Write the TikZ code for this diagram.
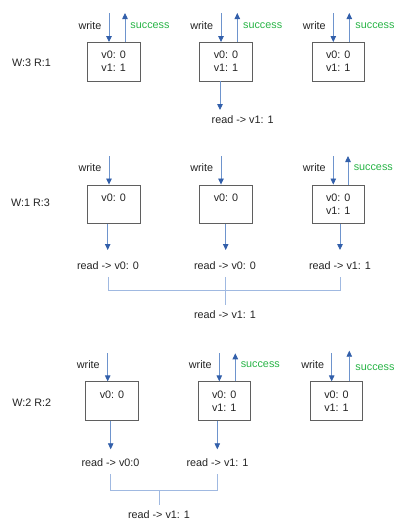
\documentclass[tikz,border=0pt]{standalone}
\usepackage{fontspec}
\setmainfont{Liberation Sans}
\usetikzlibrary{arrows.meta}
\definecolor{arrowblue}{RGB}{110,148,205}
\definecolor{headblue}{RGB}{50,95,170}
\definecolor{mergeblue}{RGB}{160,185,225}
\definecolor{okgreen}{RGB}{40,180,70}
\definecolor{boxgray}{RGB}{95,95,95}
\definecolor{textgray}{RGB}{35,35,35}
\begin{document}
\begin{tikzpicture}[
    x=1pt, y=-1pt,
    font=\fontsize{10.8}{13}\selectfont,
    text=textgray,
    replica/.style={rectangle,draw=boxgray,line width=0.8pt,minimum width=52.5pt,minimum height=38.5pt,align=center,inner sep=2pt},
    msg/.style={arrowblue,line width=0.8pt,-{Triangle[length=6pt,width=5.5pt,color=headblue]}},
    merge/.style={mergeblue,line width=0.9pt},
    ok/.style={text=okgreen}
]
\useasboundingbox (0,0) rectangle (409,531);

% W:3 R:1
\node (q1) at (31.5,63) {W:3 R:1};
\node[replica] (b11) at (113.7,61.7) {v0: 0\\v1: 1};
\node[replica] (b12) at (226,61.7) {v0: 0\\v1: 1};
\node[replica] (b13) at (338.3,61.7) {v0: 0\\v1: 1};

\node (l11) at (90,25.7) {write};
\node (l12) at (201.7,25.7) {write};
\node (l13) at (314.3,25.7) {write};
\node[ok] (k11) at (150,25.7) {success};
\node[ok] (k12) at (262.7,25.7) {success};
\node[ok] (k13) at (375,25.7) {success};

\coordinate (w11) at (109,13);
\coordinate (w12) at (221,13);
\coordinate (w13) at (333.3,13);
\coordinate (s11) at (125,13);
\coordinate (s12) at (237.3,13);
\coordinate (s13) at (349.3,13);
\draw[msg] (w11) -- (w11 |- b11.north);
\draw[msg] (w12) -- (w12 |- b12.north);
\draw[msg] (w13) -- (w13 |- b13.north);
\draw[msg] (s11 |- b11.north) -- (s11);
\draw[msg] (s12 |- b12.north) -- (s12);
\draw[msg] (s13 |- b13.north) -- (s13);

\node (r12) at (242.7,119.3) {read -> v1: 1};
\coordinate (t12) at (220,110);
\draw[msg] (t12 |- b12.south) -- (t12);

% W:1 R:3
\node (q2) at (30.5,202.7) {W:1 R:3};
\node[replica] (b21) at (113.7,204.2) {v0: 0\\\phantom{v1: 1}};
\node[replica] (b22) at (226,204.2) {v0: 0\\\phantom{v1: 1}};
\node[replica] (b23) at (338.3,204.2) {v0: 0\\v1: 1};

\node (l21) at (90,167.3) {write};
\node (l22) at (201.7,167.3) {write};
\node (l23) at (314.3,167.3) {write};
\node[ok] (k23) at (373.3,167.7) {success};

\coordinate (w21) at (109,156);
\coordinate (w22) at (221,156);
\coordinate (w23) at (333.3,156);
\coordinate (s23) at (348,156);
\draw[msg] (w21) -- (w21 |- b21.north);
\draw[msg] (w22) -- (w22 |- b22.north);
\draw[msg] (w23) -- (w23 |- b23.north);
\draw[msg] (s23 |- b23.north) -- (s23);

\node (r21) at (108,265.3) {read -> v0: 0};
\node (r22) at (225,265.3) {read -> v0: 0};
\node (r23) at (340,265.3) {read -> v1: 1};
\coordinate (t21) at (107.7,250);
\coordinate (t22) at (225.7,250);
\coordinate (t23) at (340,250);
\draw[msg] (t21 |- b21.south) -- (t21);
\draw[msg] (t22 |- b22.south) -- (t22);
\draw[msg] (t23 |- b23.south) -- (t23);

% Merged read
\node (f2) at (225,315) {read -> v1: 1};
\coordinate (j2) at (225,290.7);
\draw[merge] ([yshift=-4pt]r21.south) |- (j2) -| ([yshift=-4pt]r23.south);
\draw[merge] ([yshift=-4pt]r22.south) -- ([yshift=3pt]f2.north);

% W:2 R:2
\node (q3) at (31.7,402.7) {W:2 R:2};
\node[replica] (b31) at (112,401) {v0: 0\\\phantom{v1: 1}};
\node[replica] (b32) at (224.3,401) {v0: 0\\v1: 1};
\node[replica] (b33) at (336.5,401) {v0: 0\\v1: 1};

\node (l31) at (88.3,365) {write};
\node (l32) at (200.3,365) {write};
\node (l33) at (312.7,365) {write};
\node[ok] (k32) at (260.3,365) {success};
\node[ok] (k33) at (375,367.7) {success};

\coordinate (w31) at (107.7,353.3);
\coordinate (w32) at (219.3,353.3);
\coordinate (w33) at (331.7,353.3);
\coordinate (s32) at (235.3,353.3);
\coordinate (s33) at (349.3,350.7);
\draw[msg] (w31) -- (w31 |- b31.north);
\draw[msg] (w32) -- (w32 |- b32.north);
\draw[msg] (w33) -- (w33 |- b33.north);
\draw[msg] (s32 |- b32.north) -- (s32);
\draw[msg] (s33 |- b33.north) -- (s33);

\node (r31) at (110.5,462.7) {read -> v0:0};
\node (r32) at (217.5,462.7) {read -> v1: 1};
\coordinate (t31) at (110.7,449.3);
\coordinate (t32) at (217.3,449.3);
\draw[msg] (t31 |- b31.south) -- (t31);
\draw[msg] (t32 |- b32.south) -- (t32);

% Merged read
\node (f3) at (159,515) {read -> v1: 1};
\coordinate (j3) at (159,490.7);
\draw[merge] ([yshift=-4pt]r31.south) |- (j3) -| ([yshift=-4pt]r32.south);
\draw[merge] (j3) -- ([yshift=3pt]f3.north);

\end{tikzpicture}
\end{document}
